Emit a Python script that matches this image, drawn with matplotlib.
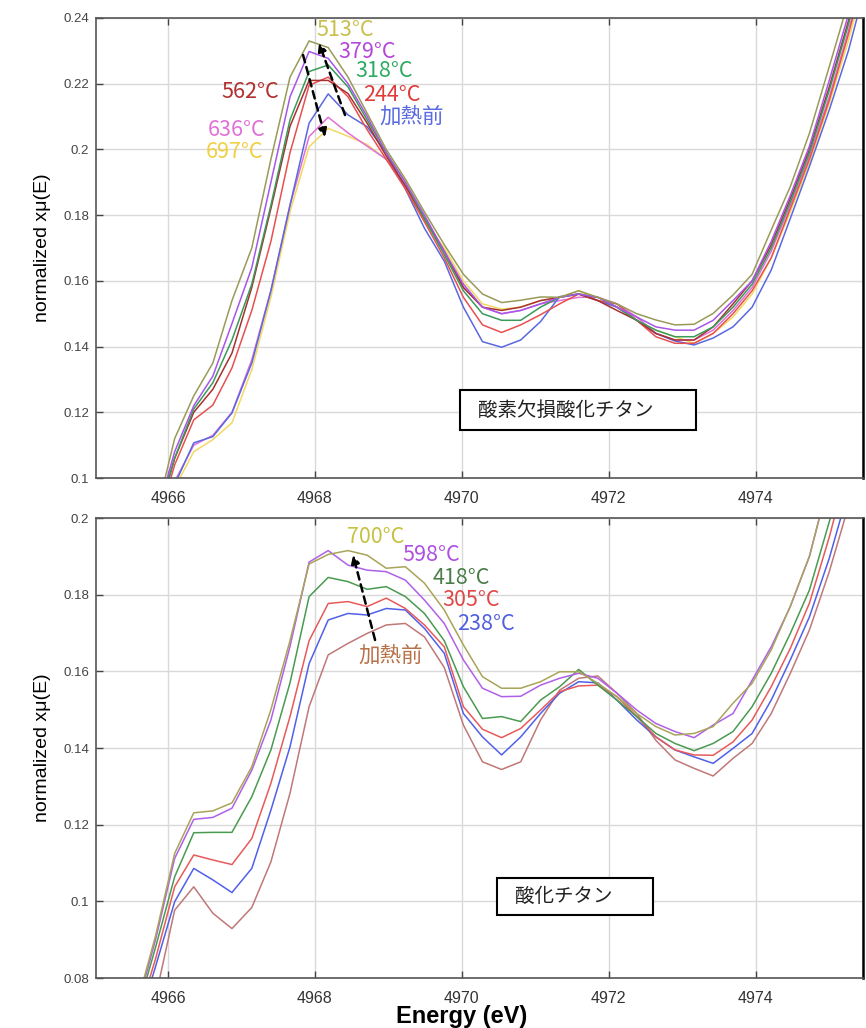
import matplotlib
matplotlib.use("Agg")
import matplotlib.pyplot as plt
from matplotlib import font_manager
from matplotlib.patches import Rectangle

names = {f.name for f in font_manager.fontManager.ttflist}
narrow = "Liberation Sans Narrow" if "Liberation Sans Narrow" in names else "Liberation Sans"
jp = ["Noto Sans CJK JP", "DejaVu Sans"]

# energy grid (eV), shared by all spectra
energy = [4965.56, 4965.83, 4966.09, 4966.35, 4966.61, 4966.87, 4967.14, 4967.40, 4967.66, 4967.92,
          4968.18, 4968.45, 4968.71, 4968.97, 4969.23, 4969.49, 4969.76, 4970.02, 4970.28, 4970.54,
          4970.80, 4971.07, 4971.33, 4971.59, 4971.85, 4972.11, 4972.38, 4972.64, 4972.90, 4973.16,
          4973.42, 4973.69, 4973.95, 4974.21, 4974.47, 4974.73, 4975.00, 4975.26, 4975.52]

# --- top: oxygen-deficient titania ---
top_before = [0.062, 0.082, 0.098, 0.1107, 0.1126, 0.1198, 0.135, 0.157, 0.183, 0.208,
              0.2169, 0.2105, 0.2069, 0.199, 0.188, 0.176, 0.166, 0.152, 0.1415, 0.1398,
              0.142, 0.1476, 0.1552, 0.156, 0.154, 0.152, 0.148, 0.144, 0.1417, 0.1405,
              0.1426, 0.146, 0.152, 0.1633, 0.179, 0.1948, 0.212, 0.230, 0.252]
top_244 = [0.064, 0.084, 0.104, 0.1177, 0.1222, 0.1335, 0.151, 0.172, 0.199, 0.2195,
           0.222, 0.216, 0.206, 0.197, 0.188, 0.178, 0.167, 0.155, 0.1466, 0.1443,
           0.1466, 0.1497, 0.153, 0.156, 0.154, 0.153, 0.148, 0.143, 0.141, 0.141,
           0.144, 0.150, 0.157, 0.167, 0.182, 0.197, 0.215, 0.235, 0.257]
top_318 = [0.065, 0.086, 0.106, 0.121, 0.129, 0.142, 0.159, 0.183, 0.209, 0.2237,
           0.2257, 0.219, 0.209, 0.199, 0.190, 0.179, 0.168, 0.157, 0.150, 0.148,
           0.148, 0.152, 0.155, 0.156, 0.155, 0.152, 0.148, 0.145, 0.143, 0.143,
           0.146, 0.152, 0.159, 0.170, 0.184, 0.199, 0.218, 0.238, 0.260]
top_379 = [0.066, 0.087, 0.108, 0.122, 0.131, 0.147, 0.164, 0.190, 0.216, 0.2298,
           0.2277, 0.220, 0.210, 0.199, 0.190, 0.180, 0.169, 0.159, 0.152, 0.150,
           0.151, 0.153, 0.155, 0.156, 0.155, 0.152, 0.149, 0.146, 0.145, 0.145,
           0.148, 0.154, 0.160, 0.172, 0.186, 0.201, 0.221, 0.241, 0.262]
top_513 = [0.067, 0.088, 0.112, 0.125, 0.135, 0.154, 0.170, 0.197, 0.222, 0.233,
           0.231, 0.222, 0.211, 0.200, 0.191, 0.181, 0.171, 0.162, 0.156, 0.1534,
           0.1541, 0.1551, 0.155, 0.157, 0.155, 0.153, 0.150, 0.1481, 0.1466, 0.1468,
           0.1501, 0.1557, 0.162, 0.1755, 0.1887, 0.2049, 0.2252, 0.245, 0.265]
top_562 = [0.065, 0.086, 0.106, 0.120, 0.127, 0.138, 0.158, 0.182, 0.207, 0.221,
           0.221, 0.217, 0.208, 0.198, 0.189, 0.179, 0.169, 0.158, 0.152, 0.151,
           0.152, 0.154, 0.155, 0.156, 0.154, 0.151, 0.148, 0.144, 0.142, 0.142,
           0.146, 0.153, 0.160, 0.171, 0.185, 0.200, 0.219, 0.239, 0.261]
top_636 = [0.062, 0.082, 0.099, 0.110, 0.113, 0.120, 0.136, 0.157, 0.183, 0.2039,
           0.2098, 0.205, 0.201, 0.197, 0.189, 0.179, 0.169, 0.158, 0.152, 0.150,
           0.151, 0.153, 0.154, 0.155, 0.155, 0.153, 0.149, 0.144, 0.142, 0.142,
           0.145, 0.151, 0.158, 0.169, 0.183, 0.198, 0.216, 0.236, 0.258]
top_697 = [0.061, 0.081, 0.097, 0.108, 0.1117, 0.1168, 0.133, 0.155, 0.181, 0.2008,
           0.2064, 0.204, 0.2015, 0.197, 0.189, 0.178, 0.170, 0.160, 0.153, 0.1514,
           0.152, 0.154, 0.155, 0.157, 0.154, 0.152, 0.148, 0.145, 0.143, 0.141,
           0.144, 0.149, 0.156, 0.167, 0.181, 0.196, 0.214, 0.233, 0.255]

# --- bottom: titania ---
bot_before = [0.062, 0.075, 0.0977, 0.1038, 0.0969, 0.0929, 0.0984, 0.1103, 0.1282, 0.1508,
              0.1643, 0.1673, 0.1699, 0.1721, 0.1725, 0.169, 0.161, 0.146, 0.1364, 0.1344,
              0.1364, 0.1473, 0.1551, 0.1582, 0.1588, 0.1543, 0.149, 0.142, 0.1369, 0.1347,
              0.1327, 0.1373, 0.1412, 0.149, 0.1595, 0.1708, 0.186, 0.203, 0.222]
bot_238 = [0.066, 0.083, 0.0999, 0.1086, 0.1056, 0.1023, 0.1086, 0.1238, 0.1403, 0.162,
           0.1734, 0.1751, 0.1747, 0.1764, 0.1760, 0.1712, 0.1647, 0.149, 0.1429, 0.1382,
           0.1429, 0.149, 0.1543, 0.1573, 0.157, 0.1525, 0.1473, 0.1429, 0.1395, 0.1377,
           0.136, 0.1399, 0.1438, 0.1525, 0.163, 0.1742, 0.1895, 0.207, 0.228]
bot_305 = [0.068, 0.085, 0.1038, 0.1121, 0.1108, 0.1096, 0.1164, 0.1308, 0.1482, 0.168,
           0.1777, 0.1782, 0.1769, 0.1791, 0.1764, 0.1721, 0.1664, 0.1508, 0.1449, 0.1427,
           0.1451, 0.1499, 0.1547, 0.1562, 0.1564, 0.1534, 0.1482, 0.1429, 0.1395, 0.1382,
           0.1381, 0.1416, 0.1473, 0.156, 0.166, 0.1778, 0.195, 0.214, 0.235]
bot_418 = [0.070, 0.088, 0.1064, 0.1179, 0.118, 0.118, 0.1273, 0.1395, 0.157, 0.1795,
           0.1845, 0.1834, 0.1814, 0.1821, 0.1795, 0.1751, 0.168, 0.156, 0.1477, 0.1482,
           0.1469, 0.1525, 0.156, 0.1605, 0.1564, 0.1525, 0.1482, 0.1438, 0.1412, 0.1393,
           0.1412, 0.1443, 0.1508, 0.1595, 0.1699, 0.1812, 0.199, 0.218, 0.240]
bot_598 = [0.071, 0.090, 0.1112, 0.1214, 0.1219, 0.1243, 0.1342, 0.1473, 0.1665, 0.1885,
           0.1915, 0.1877, 0.1864, 0.1860, 0.1838, 0.1786, 0.1725, 0.163, 0.1556, 0.1534,
           0.1535, 0.1564, 0.1582, 0.1595, 0.1582, 0.1543, 0.1499, 0.1464, 0.1443, 0.1427,
           0.146, 0.149, 0.1577, 0.1664, 0.1769, 0.190, 0.210, 0.232, 0.255]
bot_700 = [0.072, 0.091, 0.1125, 0.1231, 0.1236, 0.1257, 0.1351, 0.150, 0.168, 0.188,
           0.1905, 0.1915, 0.1903, 0.1869, 0.1873, 0.183, 0.176, 0.1669, 0.1586, 0.1556,
           0.1556, 0.1573, 0.1599, 0.1599, 0.1569, 0.1534, 0.149, 0.1456, 0.1434, 0.1438,
           0.1456, 0.1517, 0.1569, 0.1656, 0.177, 0.190, 0.210, 0.232, 0.255]

top_series = [
    (top_697, "#f3d860"), (top_636, "#e070d8"), (top_before, "#5a68e0"), (top_244, "#e85050"),
    (top_562, "#a83030"), (top_318, "#3a9a5a"), (top_379, "#a855e8"), (top_513, "#9a9a58"),
]
bot_series = [
    (bot_before, "#c07878"), (bot_238, "#5060e8"), (bot_305, "#e85a5a"),
    (bot_418, "#4a9a50"), (bot_598, "#b060e8"), (bot_700, "#a8a458"),
]

top_labels = [("513°C", "#c8c04a", 0.287, 0.974), ("379°C", "#b347d9", 0.316, 0.926),
              ("318°C", "#2eaa62", 0.338, 0.885), ("562°C", "#b22f2f", 0.164, 0.839),
              ("244°C", "#e03a3a", 0.348, 0.833), ("加熱前", "#5a6be0", 0.370, 0.785),
              ("636°C", "#e070d8", 0.146, 0.757), ("697°C", "#f0d040", 0.143, 0.709)]
bot_labels = [("700°C", "#c8c040", 0.327, 0.959), ("598°C", "#b050e0", 0.400, 0.920),
              ("418°C", "#4b7d4b", 0.439, 0.870), ("305°C", "#e04848", 0.452, 0.822),
              ("238°C", "#5060e0", 0.471, 0.770), ("加熱前", "#b8724a", 0.342, 0.700)]

fig = plt.figure(figsize=(8.66, 10.28), dpi=100)
ax1 = fig.add_axes([0.1109, 0.535, 0.8857, 0.4475])
ax2 = fig.add_axes([0.1109, 0.0486, 0.8857, 0.4475])


def style(ax, ylim, yticks):
    ax.set_xlim(4965.02, 4975.46)
    ax.set_ylim(*ylim)
    ax.set_xticks([4966, 4968, 4970, 4972, 4974])
    ax.set_yticks(yticks)
    ax.set_yticklabels([("%g" % t) for t in yticks])
    ax.grid(color="#d9d9d9", lw=1.0)
    ax.set_axisbelow(True)
    ax.tick_params(direction="in", top=True, right=False, length=5, width=1, color="#444")
    ax.tick_params(axis="y", labelsize=9.5, labelcolor="#444", pad=5)
    ax.tick_params(axis="x", labelsize=11.5, labelcolor="#333", pad=9)
    for lab in ax.get_xticklabels():
        lab.set_fontfamily(narrow)
    for lab in ax.get_yticklabels():
        lab.set_fontfamily("Liberation Sans")
    for s in ax.spines.values():
        s.set_color("#555")
        s.set_linewidth(1.2)
    ax.spines["right"].set_color("black")
    ax.spines["right"].set_linewidth(1.8)
    ax.set_ylabel("normalized xμ(E)", fontsize=14, family="Liberation Sans", labelpad=9)


style(ax1, (0.1, 0.24), [0.1, 0.12, 0.14, 0.16, 0.18, 0.2, 0.22, 0.24])
style(ax2, (0.08, 0.2), [0.08, 0.1, 0.12, 0.14, 0.16, 0.18, 0.2])

for y, c in top_series:
    ax1.plot(energy, y, color=c, lw=1.1)
for y, c in bot_series:
    ax2.plot(energy, y, color=c, lw=1.1)

for t, c, x, y in top_labels:
    ax1.text(x, y, t, color=c, fontsize=15.5, family=jp, transform=ax1.transAxes, va="center", ha="left")
for t, c, x, y in bot_labels:
    ax2.text(x, y, t, color=c, fontsize=15.5, family=jp, transform=ax2.transAxes, va="center", ha="left")

arr = dict(arrowstyle="-|>", color="black", lw=1.8, ls=(0, (3, 2)), mutation_scale=12, shrinkA=0, shrinkB=0)
ax1.annotate("", xy=(0.2986, 0.7413), xytext=(0.2699, 0.9196), xycoords="axes fraction", arrowprops=arr)
ax1.annotate("", xy=(0.2907, 0.9457), xytext=(0.3246, 0.7891), xycoords="axes fraction", arrowprops=arr)
ax2.annotate("", xy=(0.3351, 0.9196), xytext=(0.3638, 0.7348), xycoords="axes fraction", arrowprops=arr)

ax1.add_patch(Rectangle((0.4746, 0.1043), 0.3077, 0.087, transform=ax1.transAxes,
                        facecolor="white", edgecolor="black", lw=1.5, zorder=5))
ax1.text(0.498, 0.1478, "酸素欠損酸化チタン", fontsize=14, family=jp, color="#222",
         transform=ax1.transAxes, va="center", ha="left", zorder=6)
ax2.add_patch(Rectangle((0.5228, 0.137), 0.2034, 0.0804, transform=ax2.transAxes,
                        facecolor="white", edgecolor="black", lw=1.5, zorder=5))
ax2.text(0.5463, 0.1783, "酸化チタン", fontsize=14, family=jp, color="#222",
         transform=ax2.transAxes, va="center", ha="left", zorder=6)

ax2.set_xlabel("Energy (eV)", fontsize=17, fontweight="bold", family=[narrow, "DejaVu Sans"])
ax2.xaxis.set_label_coords(0.476, -0.058)

fig.savefig("out.png", dpi=100)
